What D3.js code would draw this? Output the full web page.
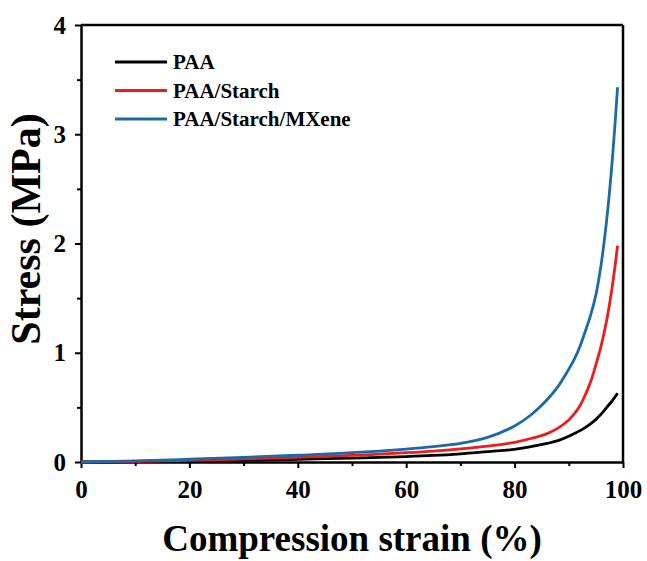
<!DOCTYPE html>
<html>
<head>
<meta charset="utf-8">
<script src="https://cdn.jsdelivr.net/npm/d3@7"></script>
<style>
  body { margin: 0; background: #fff; }
  text { font-family: "Liberation Serif", "Times New Roman", serif; font-weight: bold; }
</style>
</head>
<body>
<div id="chart"></div>
<script>
var strain = [0, 10, 20, 30, 40, 50, 60, 65, 70, 75, 80, 83, 86, 88, 90, 91, 92, 93, 94, 95, 96, 97, 98, 99];
var paa = [0, 0.003, 0.008, 0.015, 0.025, 0.036, 0.05, 0.06, 0.075, 0.095, 0.115, 0.14, 0.17, 0.195, 0.235, 0.26, 0.285, 0.315, 0.35, 0.39, 0.44, 0.5, 0.56, 0.63];
var paaStarch = [0, 0.005, 0.015, 0.028, 0.043, 0.06, 0.085, 0.1, 0.12, 0.145, 0.18, 0.215, 0.26, 0.31, 0.385, 0.44, 0.51, 0.61, 0.73, 0.89, 1.07, 1.3, 1.6, 1.98];
var paaStarchMx = [0, 0.01, 0.025, 0.042, 0.062, 0.085, 0.118, 0.14, 0.17, 0.225, 0.33, 0.43, 0.57, 0.69, 0.85, 0.94, 1.05, 1.19, 1.34, 1.53, 1.82, 2.22, 2.75, 3.43];
var seriesNames = ["PAA", "PAA/Starch", "PAA/Starch/MXene"];
var seriesColors = ["#000000", "#ee1c1c", "#1b69a8"];
var xTicks = [0, 20, 40, 60, 80, 100];
var xMinor = [10, 30, 50, 70, 90];
var yTicks = [0, 1, 2, 3, 4];
var yMinor = [0.5, 1.5, 2.5, 3.5];

var width = 647, height = 561;
var mLeft = 81, mRight = 623, mTop = 25, mBottom = 462;

var svg = d3.select("#chart").append("svg")
  .attr("width", width)
  .attr("height", height);

var x = d3.scaleLinear().domain([0, 100]).range([mLeft, mRight]);
var y = d3.scaleLinear().domain([0, 4]).range([mBottom, mTop]);

// minor ticks first
svg.append("g")
  .attr("transform", "translate(0," + mBottom + ")")
  .call(d3.axisBottom(x).tickValues(xMinor).tickSize(4).tickFormat(""))
  .call(g => g.select(".domain").remove())
  .selectAll("line").attr("stroke-width", 2);

svg.append("g")
  .attr("transform", "translate(" + mLeft + ",0)")
  .call(d3.axisLeft(y).tickValues(yMinor).tickSize(4).tickFormat(""))
  .call(g => g.select(".domain").remove())
  .selectAll("line").attr("stroke-width", 2);

var xAxis = svg.append("g")
  .attr("transform", "translate(0," + mBottom + ")")
  .call(d3.axisBottom(x).tickValues(xTicks).tickSize(6).tickPadding(12).tickSizeOuter(0).tickFormat(d3.format("d")));
xAxis.selectAll("text").attr("font-size", 25).attr("fill", "#000")
  .style("font-family", "'Liberation Serif', serif").style("font-weight", "bold");

var yAxis = svg.append("g")
  .attr("transform", "translate(" + mLeft + ",0)")
  .call(d3.axisLeft(y).tickValues(yTicks).tickSize(6).tickPadding(9).tickSizeOuter(0).tickFormat(d3.format("d")));
yAxis.selectAll("text").attr("font-size", 25).attr("fill", "#000")
  .style("font-family", "'Liberation Serif', serif").style("font-weight", "bold");

svg.selectAll(".domain").attr("stroke-width", 2.5);
svg.selectAll(".tick line").attr("stroke-width", 2);

// top and right frame
svg.append("line").attr("x1", mLeft).attr("x2", mRight).attr("y1", mTop).attr("y2", mTop)
  .attr("stroke", "#000").attr("stroke-width", 2.5);
svg.append("line").attr("x1", mRight).attr("x2", mRight).attr("y1", mTop).attr("y2", mBottom)
  .attr("stroke", "#000").attr("stroke-width", 2.5);

var line = d3.line()
  .x(d => x(d[0]))
  .y(d => y(d[1]))
  .curve(d3.curveCatmullRom.alpha(0.5));

[paa, paaStarch, paaStarchMx].forEach(function (vals, i) {
  svg.append("path")
    .datum(strain.map((s, j) => [s, vals[j]]))
    .attr("fill", "none")
    .attr("stroke", seriesColors[i])
    .attr("stroke-width", 2.8)
    .attr("d", line);
});

// legend
var legend = svg.append("g");
seriesNames.forEach(function (name, i) {
  var ly = 62 + i * 28.5;
  legend.append("line")
    .attr("x1", 115).attr("x2", 167).attr("y1", ly).attr("y2", ly)
    .attr("stroke", seriesColors[i]).attr("stroke-width", 3);
  legend.append("text")
    .attr("x", 173).attr("y", ly + 7)
    .attr("font-size", 21)
    .text(name);
});

// axis titles
svg.append("text")
  .attr("x", (mLeft + mRight) / 2)
  .attr("y", 551)
  .attr("text-anchor", "middle")
  .attr("font-size", 37)
  .text("Compression strain (%)");

svg.append("text")
  .attr("transform", "translate(40," + 229 + ") rotate(-90)")
  .attr("text-anchor", "middle")
  .attr("font-size", 42)
  .text("Stress (MPa)");
</script>
</body>
</html>
